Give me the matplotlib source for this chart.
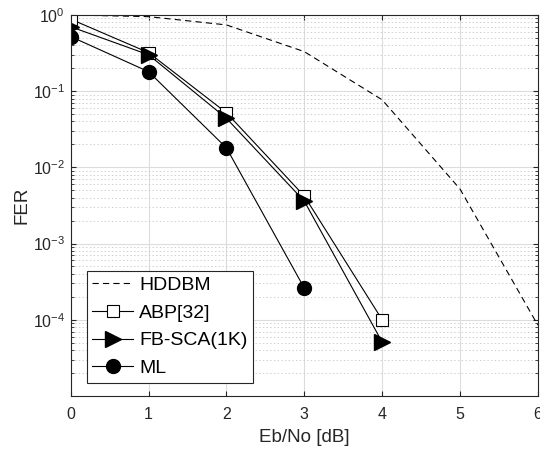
import matplotlib.pyplot as plt
import numpy as np

plt.rcParams['font.family'] = ['Liberation Sans', 'DejaVu Sans']
plt.rcParams['mathtext.fontset'] = 'custom'
plt.rcParams['mathtext.rm'] = 'Liberation Sans'
plt.rcParams['lines.scale_dashes'] = False

# data
ebno = [0, 1, 2, 3, 4, 5, 6]
hddbm = [1.0, 0.95, 0.74, 0.33, 0.077, 0.0052, 8.5e-5]
abp_x = [0, 1, 2, 3, 4]
abp = [0.88, 0.32, 0.052, 0.0042, 1.0e-4]
fbsca_x = [0, 1, 2, 3, 4]
fbsca = [0.70, 0.30, 0.044, 0.0036, 5.1e-5]
ml_x = [0, 1, 2, 3]
ml = [0.52, 0.18, 0.018, 2.6e-4]

fig = plt.figure(figsize=(5.4, 4.53), dpi=100)
ax = fig.add_axes([0.131, 0.126, 0.865, 0.841])

ax.semilogy(ebno, hddbm, 'k', ls=(0, (4.5, 3)), lw=0.8, label='HDDBM')
ax.semilogy(abp_x, abp, 'k-', lw=0.8, marker='s', ms=8, mfc='white', mec='k', mew=0.8, label='ABP[32]')
ax.semilogy(fbsca_x, fbsca, 'k-', lw=0.8, marker='>', ms=12, mfc='k', label='FB-SCA(1K)')
ax.semilogy(ml_x, ml, 'k-', lw=0.8, marker='o', ms=10, mfc='k', label='ML')

ax.set_xlim(0, 6)
ax.set_ylim(1e-5, 1)
ax.set_xticks(range(7))
ax.set_yticks([1e-4, 1e-3, 1e-2, 1e-1, 1e0])
ax.grid(True, which='major', color='#dcdcdc', lw=0.8)
ax.grid(True, which='minor', color='#c8c8c8', ls=':', lw=0.6)
ax.tick_params(which='both', direction='in', top=True, right=True, colors='#262626', labelsize=11.5)
ax.tick_params(axis='x', pad=8)
ax.tick_params(axis='y', pad=4)
for s in ax.spines.values():
    s.set_color('#262626')
ax.set_xlabel('Eb/No [dB]', fontsize=13.5, color='#262626', labelpad=5)
ax.set_ylabel('FER', fontsize=13.5, color='#262626', labelpad=2)

leg = ax.legend(loc='lower left', bbox_to_anchor=(0.034, 0.034), fontsize=14, fancybox=False,
                edgecolor='#262626', framealpha=1, handlelength=2.1, borderpad=0.3,
                labelspacing=0.52, handletextpad=0.3, borderaxespad=0)
leg.get_frame().set_linewidth(0.8)

fig.savefig('out.png', dpi=100)
